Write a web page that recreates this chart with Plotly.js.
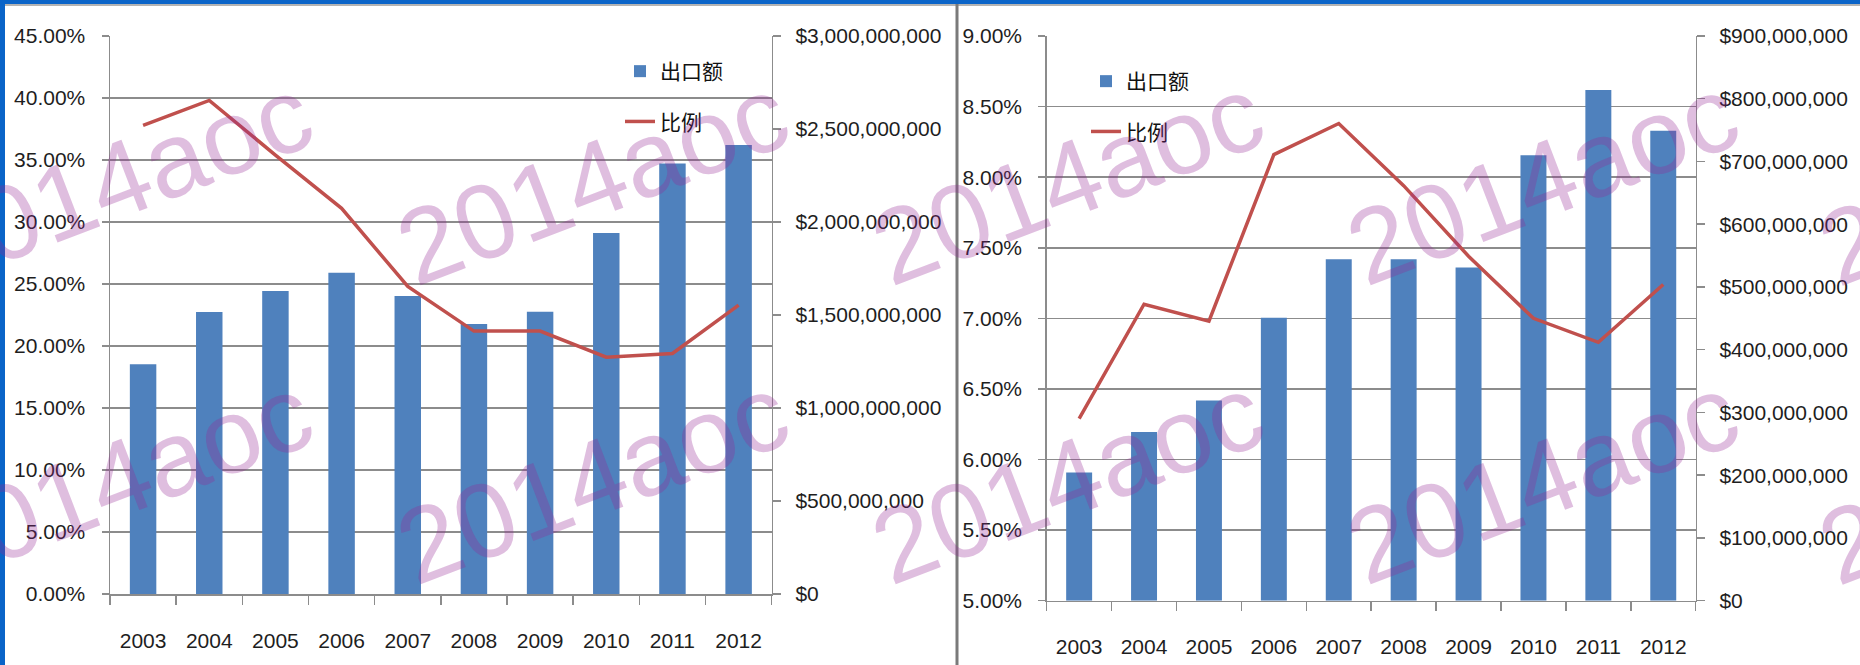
<!DOCTYPE html>
<html>
<head>
<meta charset="utf-8">
<script src="https://cdn.plot.ly/plotly-3.0.1.min.js"></script>
<style>
  html, body { margin: 0; padding: 0; background: #fff; }
  #chart { width: 1860px; height: 665px; }
</style>
</head>
<body>
<div id="chart"></div>
<script>
// categories shared by both panels
var years = ["2003", "2004", "2005", "2006", "2007", "2008", "2009", "2010", "2011", "2012"];
var seriesNames = ["出口额", "比例"];

// left panel
var exportLeft = [1235000000, 1516000000, 1629000000, 1727000000, 1602000000, 1452000000, 1518000000, 1941000000, 2315000000, 2414000000];
var ratioLeft = [0.378, 0.398, 0.354, 0.311, 0.248, 0.212, 0.212, 0.191, 0.194, 0.233];

// right panel
var exportRight = [204500000, 269000000, 319000000, 451000000, 544000000, 544000000, 531000000, 710000000, 814000000, 749000000];
var ratioRight = [0.0629, 0.0710, 0.0698, 0.0816, 0.0838, 0.0794, 0.0744, 0.0700, 0.0683, 0.0724];

var watermark = "2014aoc";

// page is 1860x665 with zero margins, so paper coords map straight to pixels
var W = 1860, H = 665;
function px(x) { return x / W; }
function py(y) { return 1 - y / H; }

var gray = "#8c8c8c";
var tickFont = { family: "Liberation Sans, Arial, sans-serif", size: 21, color: "#1e1e1e" };
var legendFont = { family: "Noto Sans CJK SC, sans-serif", size: 21, color: "#111" };

function catAxis(x0, x1, anchor) {
    return {
        type: "category", domain: [px(x0), px(x1)], anchor: anchor,
        showline: true, linecolor: gray, linewidth: 1.5,
        ticks: "outside", tickson: "boundaries", ticklen: 9, tickcolor: gray, tickwidth: 1.5,
        showgrid: false, tickfont: tickFont, ticklabelstandoff: 27, fixedrange: true
    };
}

function moneyAxis(top, bottom, anchor, max, step) {
    return {
        domain: [py(bottom), py(top)], anchor: anchor, side: "right",
        range: [0, max], tick0: 0, dtick: step, tickformat: "$,.0f",
        showgrid: false, zeroline: false, showline: true, linecolor: gray, linewidth: 1.5,
        ticks: "outside", ticklen: 8, tickcolor: gray, tickwidth: 1.5,
        tickfont: tickFont, ticklabelstandoff: 10, fixedrange: true
    };
}

function pctAxis(over, anchor, lo, hi, step) {
    return {
        overlaying: over, anchor: anchor, side: "left",
        range: [lo, hi], tick0: lo, dtick: step, tickformat: ".2%",
        showgrid: true, gridcolor: gray, gridwidth: 1.5, zeroline: false,
        showline: true, linecolor: gray, linewidth: 1.5,
        ticks: "outside", ticklen: 7, tickcolor: gray, tickwidth: 1.5,
        tickfont: tickFont, ticklabelstandoff: 12, fixedrange: true
    };
}

var barColor = "#4f81bd";
var lineColor = "#c0504d";

var data = [
    { type: "bar", x: years, y: exportLeft, xaxis: "x", yaxis: "y", name: seriesNames[0],
      marker: { color: barColor }, legend: "legend", legendgroup: "a" },
    { type: "scatter", mode: "lines", x: years, y: ratioLeft, xaxis: "x", yaxis: "y2", name: seriesNames[1],
      line: { color: lineColor, width: 3.5 }, legend: "legend", legendgroup: "b" },
    { type: "bar", x: years, y: exportRight, xaxis: "x2", yaxis: "y3", name: seriesNames[0],
      marker: { color: barColor }, legend: "legend2", legendgroup: "c" },
    { type: "scatter", mode: "lines", x: years, y: ratioRight, xaxis: "x2", yaxis: "y4", name: seriesNames[1],
      line: { color: lineColor, width: 3.5 }, legend: "legend2", legendgroup: "d" }
];

// watermark copies, two rows repeating across the page
var wmX = [117, 592, 1067, 1542, 2015];
var wmY = [180, 479];
var annotations = [];
wmY.forEach(function (cy) {
    wmX.forEach(function (cx) {
        annotations.push({
            xref: "paper", yref: "paper", x: px(cx), y: py(cy),
            xanchor: "center", yanchor: "middle", showarrow: false,
            text: watermark, textangle: -21,
            font: { family: "Liberation Sans, Arial, sans-serif", size: 106, color: "rgba(150,40,150,0.3)" }
        });
    });
});

var frameBlue = "#0a64c8";
var shapes = [
    { type: "rect", xref: "paper", yref: "paper", x0: 0, x1: 1, y0: py(4), y1: 1, fillcolor: frameBlue, line: { width: 0 } },
    { type: "line", xref: "paper", yref: "paper", x0: 0, x1: 1, y0: py(5), y1: py(5), line: { color: "#9a9a9a", width: 1.5 } },
    { type: "rect", xref: "paper", yref: "paper", x0: 0, x1: px(5), y0: 0, y1: 1, fillcolor: frameBlue, line: { width: 0 } },
    { type: "line", xref: "paper", yref: "paper", x0: px(957), x1: px(957), y0: 0, y1: py(4), line: { color: "#7a7a7a", width: 3 } }
];

var layout = {
    width: W, height: H,
    margin: { l: 0, r: 0, t: 0, b: 0 },
    paper_bgcolor: "#fff", plot_bgcolor: "rgba(0,0,0,0)",
    bargap: 0.6,
    hovermode: false,
    showlegend: true,
    xaxis: catAxis(110, 771.7, "y"),
    yaxis: moneyAxis(36, 594, "x", 3000000000, 500000000),
    yaxis2: pctAxis("y", "x", 0, 0.45, 0.05),
    xaxis2: catAxis(1046.7, 1695.7, "y3"),
    yaxis3: moneyAxis(36, 600.7, "x2", 900000000, 100000000),
    yaxis4: pctAxis("y3", "x2", 0.05, 0.09, 0.005),
    legend: { x: px(620), y: py(51), xanchor: "left", yanchor: "top", bgcolor: "rgba(0,0,0,0)",
              font: legendFont, traceorder: "grouped", tracegroupgap: 20, itemwidth: 30 },
    legend2: { x: px(1086), y: py(61), xanchor: "left", yanchor: "top", bgcolor: "rgba(0,0,0,0)",
               font: legendFont, traceorder: "grouped", tracegroupgap: 20, itemwidth: 30 },
    annotations: annotations,
    shapes: shapes
};

Plotly.newPlot("chart", data, layout, { displayModeBar: false, staticPlot: true });
</script>
</body>
</html>
